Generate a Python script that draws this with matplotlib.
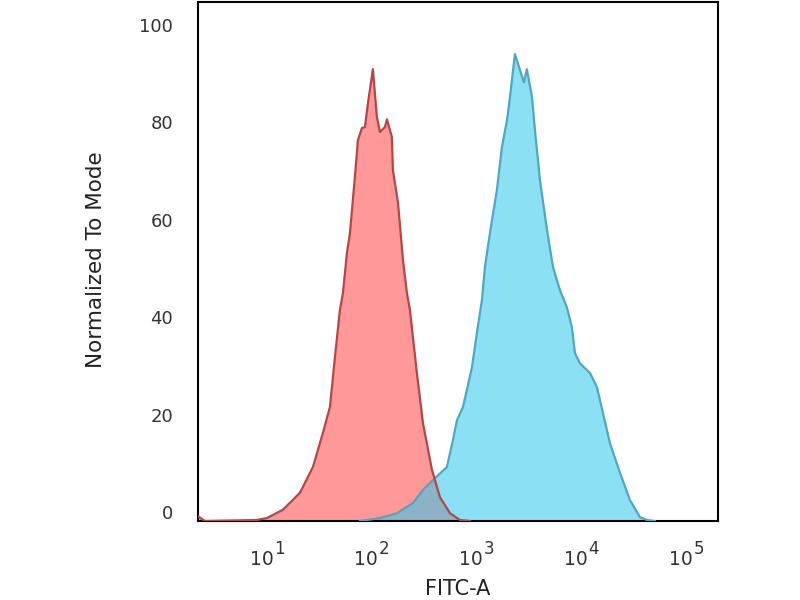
import numpy as np
import matplotlib
matplotlib.use('Agg')
import matplotlib.pyplot as plt
import matplotlib.transforms as mtransforms

# isotype control (red): log10 of FITC-A intensity and % of mode
red_log = [0.331, 0.398, 0.895, 0.990, 1.143, 1.306, 1.430, 1.525, 1.592, 1.640,
           1.687, 1.716, 1.754, 1.783, 1.830, 1.859, 1.897, 1.926, 1.955, 2.002,
           2.040, 2.069, 2.117, 2.136, 2.183, 2.193, 2.242, 2.289, 2.327, 2.356,
           2.422, 2.480, 2.566, 2.642, 2.738, 2.833, 2.929]
red_pct = [1.0, 0.0, 0.2, 0.6, 2.3, 5.8, 11.1, 18.1, 23.4, 33.7,
           43.3, 46.8, 55.0, 59.1, 70.6, 78.2, 80.7, 80.9, 85.8, 92.8,
           83.0, 79.9, 80.9, 82.5, 78.9, 72.1, 65.3, 53.6, 46.8, 43.3,
           30.4, 20.1, 10.5, 4.9, 1.6, 0.2, 0.0]

# stained sample (blue)
blue_log = [1.879, 2.069, 2.232, 2.385, 2.480, 2.595, 2.709, 2.766, 2.805, 2.862,
            2.948, 2.995, 3.043, 3.072, 3.119, 3.186, 3.234, 3.282, 3.311, 3.358,
            3.444, 3.472, 3.521, 3.549, 3.597, 3.664, 3.721, 3.788, 3.854, 3.902,
            3.931, 3.978, 4.074, 4.141, 4.198, 4.265, 4.361, 4.456, 4.551, 4.618,
            4.694]
blue_pct = [0.0, 0.6, 1.6, 3.7, 6.4, 8.8, 11.1, 16.6, 20.7, 23.4,
            31.6, 38.6, 45.4, 52.2, 59.1, 68.0, 76.8, 82.3, 87.1, 95.9,
            90.1, 92.8, 87.1, 80.3, 70.0, 59.8, 52.2, 47.4, 43.9, 39.8,
            34.5, 32.4, 30.4, 27.5, 22.2, 16.0, 9.9, 4.3, 0.8, 0.2,
            0.0]

xtick_exp = [1, 2, 3, 4, 5]
yticks = [0, 20, 40, 60, 80, 100]


def main():
  fig = plt.figure(figsize=(8, 6), dpi=100)
  ax = fig.add_axes([0.2475, 0.1317, 0.65, 0.865])

  rx = 10.0 ** np.array(red_log)
  bx = 10.0 ** np.array(blue_log)

  ax.fill_between(rx, red_pct, 0, color=(1.0, 0.60, 0.60), lw=0, zorder=1)
  ax.fill_between(bx, blue_pct, 0, color=(0.176, 0.784, 0.925), alpha=0.55,
                  lw=0, zorder=2)
  ax.plot(bx, blue_pct, c=(0.30, 0.66, 0.76), lw=1.6, zorder=3)
  ax.plot(rx, red_pct, c=(0.70, 0.28, 0.28), lw=1.6, zorder=4)

  ax.set_xscale('log')
  ax.set_xlim(2.15, 1.98e5)
  ax.set_ylim(0, 106.6)
  ax.set_xticks([10.0 ** e for e in xtick_exp])
  ax.set_xticklabels([])
  ax.xaxis.set_minor_locator(matplotlib.ticker.NullLocator())
  ax.set_yticks(yticks)
  ax.set_yticklabels([str(v) for v in yticks])
  ax.tick_params(axis='both', length=0, colors='#333333')
  ax.tick_params(axis='y', pad=18, labelsize=13)

  # y labels sit slightly above their value in the original
  shift = mtransforms.ScaledTranslation(0, 0.09, fig.dpi_scale_trans)
  for lab in ax.get_yticklabels():
    lab.set_transform(lab.get_transform() + shift)

  # decade labels: 10 with a large exponent
  for e in xtick_exp:
    ax.annotate('10', xy=(10.0 ** e, 0), xycoords=('data', 'axes fraction'),
                xytext=(4.0, -27.4), textcoords='offset points',
                ha='right', va='center', fontsize=13.5, color='#333333')
    ax.annotate(str(e), xy=(10.0 ** e, 0), xycoords=('data', 'axes fraction'),
                xytext=(4.6, -20.0), textcoords='offset points',
                ha='left', va='center', fontsize=12, color='#333333')

  for sp in ax.spines.values():
    sp.set_linewidth(1.5)
    sp.set_color('black')

  fig.text(458 / 800, 1 - 579 / 600, 'FITC-A', fontsize=15, ha='center', va='top',
           color='#222222')
  fig.text(96 / 800, 1 - 260 / 600, 'Normalized To Mode', fontsize=15.5,
           rotation=90, ha='center', va='center', color='#222222')

  fig.savefig('out.png', dpi=100)


if __name__ == '__main__':
  main()
